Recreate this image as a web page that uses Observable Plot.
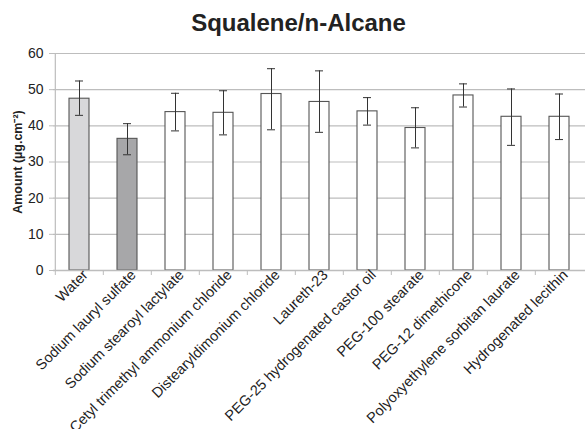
<!DOCTYPE html>
<html>
<head>
<meta charset="utf-8">
<script src="https://cdn.jsdelivr.net/npm/d3@7"></script>
<script src="https://cdn.jsdelivr.net/npm/@observablehq/plot@0.6"></script>
<style>
  html, body { margin: 0; padding: 0; background: #fff; }
  svg { display: block; }
</style>
</head>
<body>
<div id="chart"></div>
<script>
const categories = [
  "Water",
  "Sodium lauryl sulfate",
  "Sodium stearoyl lactylate",
  "Cetyl trimethyl ammonium chloride",
  "Distearyldimonium chloride",
  "Laureth-23",
  "PEG-25 hydrogenated castor oil",
  "PEG-100 stearate",
  "PEG-12 dimethicone",
  "Polyoxyethylene sorbitan laurate",
  "Hydrogenated lecithin"
];
const amounts  = [47.5, 36.4, 43.8, 43.6, 48.8, 46.6, 44.0, 39.4, 48.4, 42.5, 42.5];
const errLow   = [42.9, 32.0, 38.6, 37.5, 38.9, 38.2, 40.2, 33.9, 45.2, 34.6, 36.2];
const errHigh  = [52.4, 40.6, 49.0, 49.7, 55.8, 55.2, 47.8, 45.0, 51.6, 50.2, 48.8];
const fills    = ["#d8d8da", "#a7a7a9", "#ffffff", "#ffffff", "#ffffff", "#ffffff", "#ffffff", "#ffffff", "#ffffff", "#ffffff", "#ffffff"];
const yTicks   = [0, 10, 20, 30, 40, 50, 60];

const data = categories.map((c, i) => ({
  name: c, amount: amounts[i], lo: errLow[i], hi: errHigh[i], fill: fills[i]
}));

const W = 585, H = 429, mL = 53, mR = 0;
const bandW = (W - mL - mR) / categories.length;

const chart = Plot.plot({
  width: W,
  height: H,
  marginTop: 53,
  marginBottom: 159,
  marginLeft: mL,
  marginRight: mR,
  style: { fontFamily: "'Liberation Sans', Arial, sans-serif", fontSize: "13px", color: "#222", background: "#fff" },
  x: { domain: categories, paddingInner: 0.59, paddingOuter: 0.295, label: null },
  y: { domain: [0, 60], ticks: yTicks, label: null },
  marks: [
    Plot.gridY(yTicks.filter(t => t > 0), { stroke: "#bdbdbd", strokeOpacity: 1, strokeWidth: 1.2 }),
    Plot.barY(data, { x: "name", y: "amount", fill: "fill", stroke: "#555", strokeWidth: 1.1 }),
    Plot.ruleX(data, { x: "name", y1: "lo", y2: "hi", stroke: "#333", strokeWidth: 1 }),
    Plot.tickY(data, { x: "name", y: "lo", stroke: "#333", strokeWidth: 1, inset: 6 }),
    Plot.tickY(data, { x: "name", y: "hi", stroke: "#333", strokeWidth: 1, inset: 6 }),
    Plot.ruleY([0], { stroke: "#bdbdbd", strokeWidth: 1.5 }),
    Plot.ruleX([categories[0]], { dx: -bandW / 2, y1: 0, y2: 60, stroke: "#bdbdbd", strokeWidth: 1.2 }),
    Plot.axisY({ ticks: yTicks, tickSize: 4, tickPadding: 6, stroke: "#bdbdbd", fontSize: 14,
      label: "Amount (µg.cm⁻²)", labelAnchor: "center", labelArrow: "none", labelOffset: 40 }),
    Plot.axisX({ text: null, tickSize: 5, dx: -bandW / 2, stroke: "#bdbdbd" }),
    Plot.axisX({ tickSize: 0, tickRotate: -45, tickPadding: 2, fontSize: 14.5, label: null, dx: 6 }),
    Plot.text(["Squalene/n-Alcane"], { frameAnchor: "top", dy: -40, dx: -21, fontSize: 24, fontWeight: "bold", fill: "#222" })
  ]
});

d3.select(chart).selectAll("g[aria-label='y-axis label'] text").attr("font-weight", "bold").attr("font-size", 12.5);

document.getElementById("chart").appendChild(chart);
</script>
</body>
</html>
